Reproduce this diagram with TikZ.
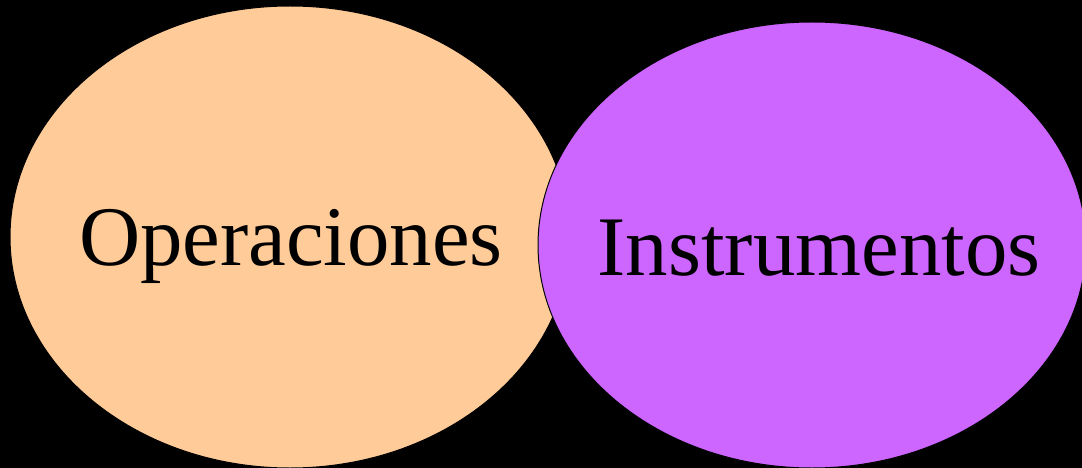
\documentclass[tikz,border=0pt]{standalone}
\usepackage{fontspec}
\setmainfont{Liberation Serif}
\definecolor{peach}{HTML}{FFCC99}
\definecolor{violet}{HTML}{CC66FF}
\begin{document}
\begin{tikzpicture}[x=1pt,y=-1pt,
  blob/.style={draw=black,line width=1pt},
  lbl/.style={anchor=base,inner sep=0pt,font=\fontsize{84.8}{100}\selectfont}]
\fill[black] (0,0) rectangle (1082,468);
\useasboundingbox (0,0) rectangle (1082,468);
\clip (0,0) rectangle (1082,468);
\draw[blob,fill=peach] (290,237) ellipse [x radius=280, y radius=231];
\draw[blob,fill=violet] (812,245) ellipse [x radius=274, y radius=223];
\node[lbl] (op) at (291,265) {Operaciones};
\node[lbl] (ins) at (819,275) {Instrumentos};
\end{tikzpicture}
\end{document}
